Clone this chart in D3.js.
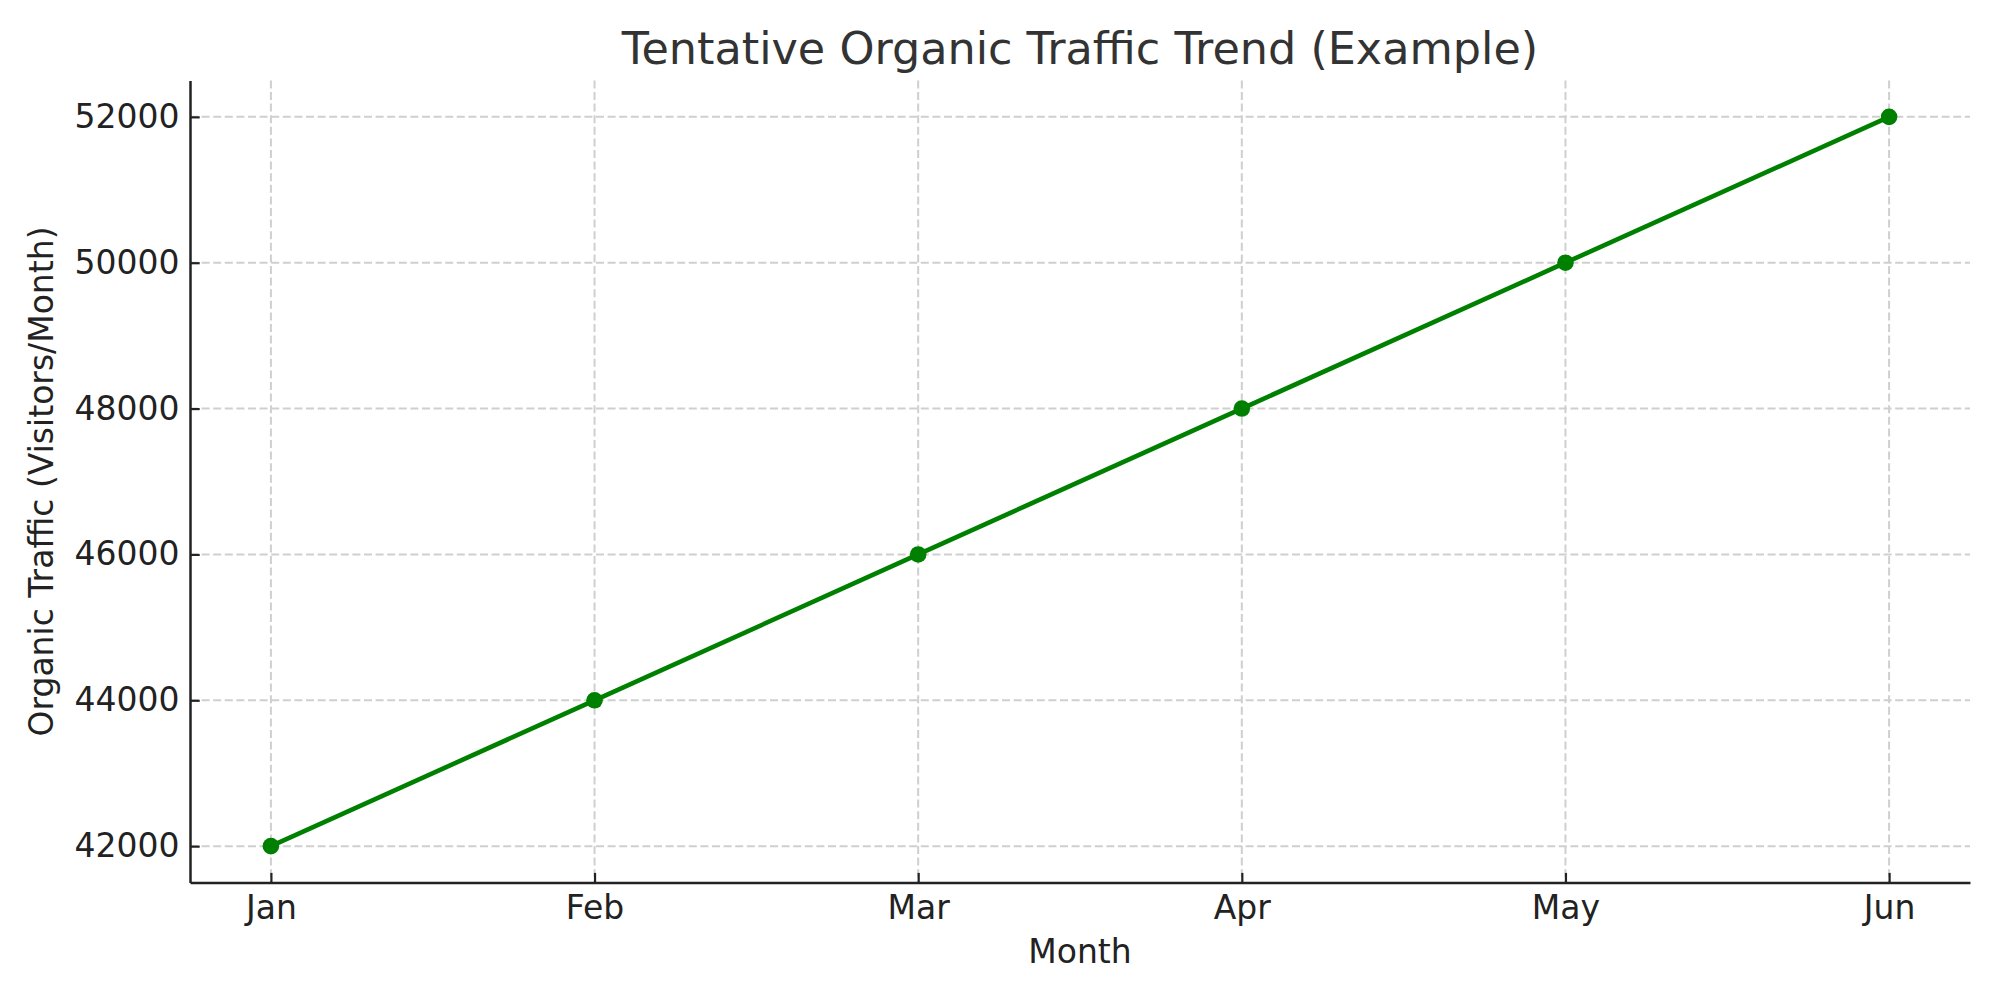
<!DOCTYPE html>
<html>
<head>
<meta charset="utf-8">
<script src="https://cdn.jsdelivr.net/npm/d3@7"></script>
<style>
  body { margin: 0; background: #fff; }
  text { font-family: "DejaVu Sans", sans-serif; }
</style>
</head>
<body>
<div id="chart"></div>
<script>
// data
const months = ["Jan", "Feb", "Mar", "Apr", "May", "Jun"];
const traffic = [42000, 44000, 46000, 48000, 50000, 52000];
const yTicks = [42000, 44000, 46000, 48000, 50000, 52000];

const svgWidth = 2000, svgHeight = 1000;
const plotLeft = 190, plotRight = 1970, plotTop = 80.4, plotBottom = 882.6;

const svg = d3.select("#chart").append("svg")
  .attr("width", svgWidth)
  .attr("height", svgHeight);

// matplotlib style padding: 5% each side
const xScale = d3.scaleLinear()
  .domain([-0.25, months.length - 1 + 0.25])
  .range([plotLeft, plotRight]);

const yScale = d3.scaleLinear()
  .domain([41500, 52500])
  .range([plotBottom, plotTop]);

// grid
const grid = svg.append("g").attr("class", "grid");
grid.selectAll(".vgrid")
  .data(months)
  .enter().append("line")
  .attr("x1", (d, i) => xScale(i))
  .attr("x2", (d, i) => xScale(i))
  .attr("y1", plotTop)
  .attr("y2", plotBottom)
  .attr("stroke", "#cfcfcf")
  .attr("stroke-width", 2)
  .attr("stroke-dasharray", "8,3.6");

grid.selectAll(".hgrid")
  .data(yTicks)
  .enter().append("line")
  .attr("x1", plotLeft)
  .attr("x2", plotRight)
  .attr("y1", d => yScale(d))
  .attr("y2", d => yScale(d))
  .attr("stroke", "#cfcfcf")
  .attr("stroke-width", 2)
  .attr("stroke-dasharray", "8,3.6");

// axes, ticks pointing inward
const xAxis = d3.axisBottom(xScale)
  .tickValues(d3.range(months.length))
  .tickFormat(i => months[i])
  .tickSizeInner(-9.7)
  .tickSizeOuter(0)
  .tickPadding(12.5);

const yAxis = d3.axisLeft(yScale)
  .tickValues(yTicks)
  .tickFormat(d3.format("d"))
  .tickSizeInner(-9.7)
  .tickSizeOuter(0)
  .tickPadding(10.5);

const gx = svg.append("g")
  .attr("transform", "translate(0," + plotBottom + ")")
  .call(xAxis);

const gy = svg.append("g")
  .attr("transform", "translate(" + plotLeft + ",0)")
  .call(yAxis);

[gx, gy].forEach(g => {
  g.select(".domain").attr("stroke", "#222").attr("stroke-width", 2.5);
  g.selectAll(".tick line").attr("stroke", "#222").attr("stroke-width", 2.2);
  g.selectAll(".tick text")
    .attr("fill", "#222")
    .style("font-size", "33px")
    .style("font-family", "DejaVu Sans, sans-serif");
});

// line + markers
const valueline = d3.line()
  .x((d, i) => xScale(i))
  .y(d => yScale(d));

svg.append("path")
  .datum(traffic)
  .attr("fill", "none")
  .attr("stroke", "#008000")
  .attr("stroke-width", 4.6)
  .attr("d", valueline);

svg.selectAll(".dot")
  .data(traffic)
  .enter().append("circle")
  .attr("class", "dot")
  .attr("cx", (d, i) => xScale(i))
  .attr("cy", d => yScale(d))
  .attr("r", 8.3)
  .attr("fill", "#008000");

// labels
svg.append("text")
  .attr("x", (plotLeft + plotRight) / 2)
  .attr("y", 64)
  .attr("text-anchor", "middle")
  .attr("fill", "#333")
  .style("font-size", "44.5px")
  .text("Tentative Organic Traffic Trend (Example)");

svg.append("text")
  .attr("x", (plotLeft + plotRight) / 2)
  .attr("y", 963)
  .attr("text-anchor", "middle")
  .attr("fill", "#222")
  .style("font-size", "33px")
  .text("Month");

svg.append("text")
  .attr("transform", "translate(53," + (plotTop + plotBottom) / 2 + ") rotate(-90)")
  .attr("text-anchor", "middle")
  .attr("fill", "#222")
  .style("font-size", "33px")
  .text("Organic Traffic (Visitors/Month)");
</script>
</body>
</html>
